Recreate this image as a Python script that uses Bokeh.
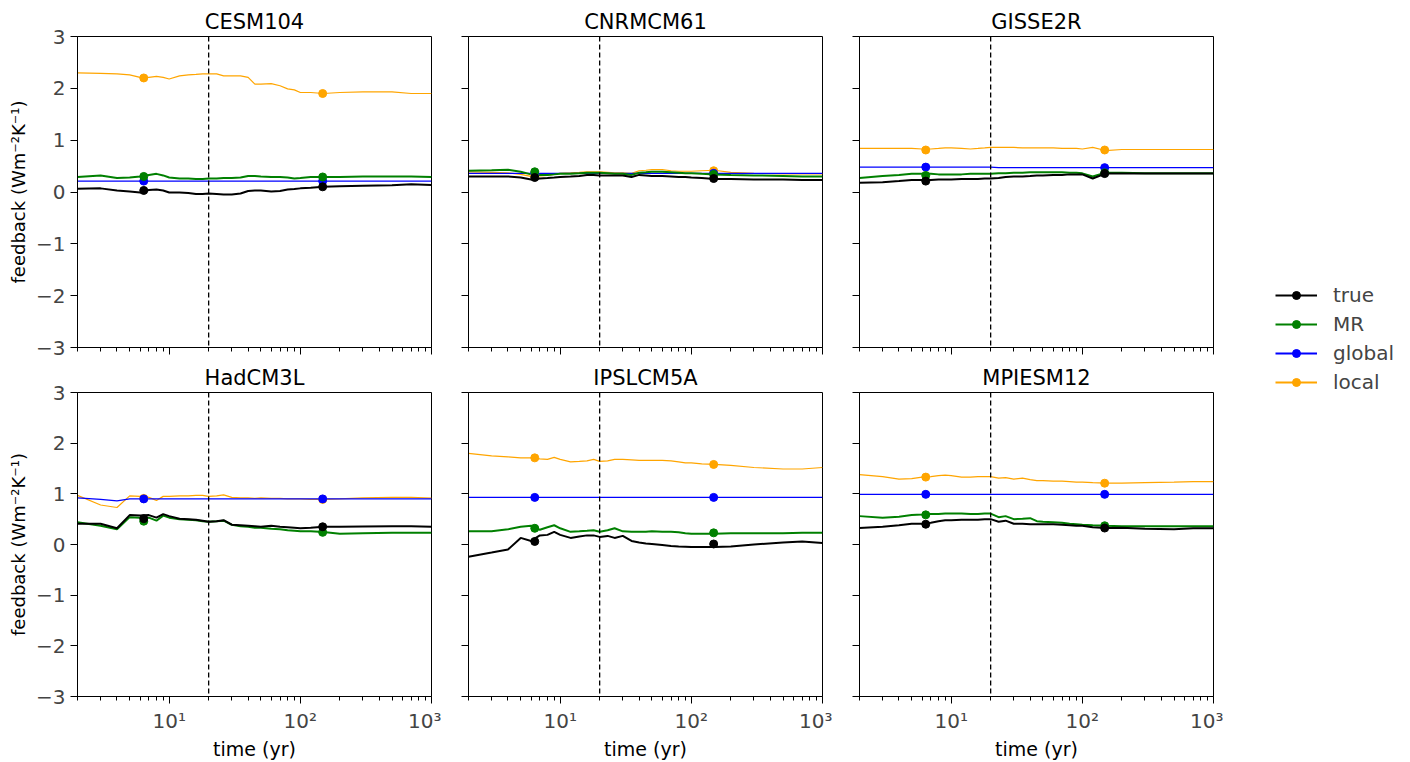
from bokeh.plotting import figure
from bokeh.layouts import row, column
from bokeh.models import Span, FixedTicker, Legend, LegendItem, Range1d, CustomLabelingPolicy
from bokeh.embed import file_html
from bokeh.resources import INLINE

# ---------------- data ----------------
years = [2, 3, 4, 5, 6, 7, 8, 9, 10, 12, 14, 16, 18, 20, 23, 26, 30, 35, 40, 45,
         50, 60, 70, 80, 90, 100, 120, 150, 200, 300, 500, 700, 1000]
marker_years = [6.4, 148]
split_year = 20

models = ["CESM104", "CNRMCM61", "GISSE2R", "HadCM3L", "IPSLCM5A", "MPIESM12"]
series_names = ["true", "MR", "global", "local"]

CESM104_true = [0.065, 0.07, 0.03, 0.01, -0.01, 0.04, 0.05, 0.03, -0.01, -0.01, -0.02, -0.04, -0.04, -0.03, -0.04, -0.05, -0.05, -0.03, 0.02, 0.03, 0.03, 0.01, 0.02, 0.05, 0.06, 0.07, 0.08, 0.10, 0.11, 0.12, 0.13, 0.15, 0.135]
CESM104_MR = [0.29, 0.32, 0.27, 0.28, 0.30, 0.33, 0.35, 0.32, 0.28, 0.26, 0.26, 0.25, 0.25, 0.26, 0.26, 0.27, 0.27, 0.28, 0.31, 0.31, 0.30, 0.29, 0.29, 0.28, 0.26, 0.27, 0.29, 0.29, 0.29, 0.30, 0.30, 0.30, 0.29]
CESM104_global = [0.21, 0.21, 0.21, 0.21, 0.21, 0.21, 0.21, 0.21, 0.21, 0.21, 0.21, 0.21, 0.21, 0.21, 0.21, 0.21, 0.21, 0.21, 0.21, 0.21, 0.21, 0.21, 0.21, 0.21, 0.21, 0.21, 0.21, 0.21, 0.21, 0.21, 0.21, 0.21, 0.21]
CESM104_local = [2.30, 2.29, 2.28, 2.26, 2.21, 2.21, 2.23, 2.21, 2.18, 2.24, 2.26, 2.27, 2.28, 2.28, 2.28, 2.24, 2.24, 2.24, 2.21, 2.08, 2.08, 2.09, 2.05, 1.99, 1.97, 1.92, 1.92, 1.90, 1.92, 1.93, 1.93, 1.90, 1.90]

CNRMCM61_true = [0.30, 0.30, 0.30, 0.28, 0.24, 0.26, 0.27, 0.28, 0.29, 0.30, 0.31, 0.33, 0.33, 0.32, 0.32, 0.32, 0.32, 0.29, 0.33, 0.32, 0.31, 0.31, 0.30, 0.29, 0.29, 0.28, 0.27, 0.25, 0.25, 0.24, 0.24, 0.23, 0.23]
CNRMCM61_MR = [0.41, 0.42, 0.43, 0.39, 0.34, 0.33, 0.33, 0.34, 0.35, 0.35, 0.36, 0.37, 0.37, 0.37, 0.36, 0.35, 0.35, 0.33, 0.37, 0.38, 0.39, 0.39, 0.38, 0.37, 0.36, 0.36, 0.35, 0.34, 0.33, 0.32, 0.31, 0.30, 0.30]
CNRMCM61_global = [0.36, 0.36, 0.36, 0.36, 0.36, 0.36, 0.36, 0.36, 0.36, 0.36, 0.36, 0.36, 0.36, 0.36, 0.36, 0.36, 0.36, 0.36, 0.36, 0.36, 0.36, 0.36, 0.36, 0.36, 0.36, 0.36, 0.36, 0.36, 0.36, 0.36, 0.36, 0.36, 0.36]
CNRMCM61_local = [0.39, 0.38, 0.37, 0.34, 0.30, 0.31, 0.32, 0.34, 0.36, 0.37, 0.38, 0.39, 0.39, 0.39, 0.38, 0.37, 0.37, 0.36, 0.41, 0.42, 0.43, 0.43, 0.41, 0.40, 0.40, 0.40, 0.41, 0.42, 0.38, 0.36, 0.35, 0.35, 0.35]

GISSE2R_true = [0.18, 0.19, 0.21, 0.23, 0.23, 0.23, 0.24, 0.24, 0.24, 0.25, 0.25, 0.25, 0.26, 0.26, 0.27, 0.29, 0.30, 0.30, 0.31, 0.32, 0.32, 0.33, 0.33, 0.34, 0.34, 0.34, 0.26, 0.355, 0.355, 0.355, 0.355, 0.355, 0.355]
GISSE2R_MR = [0.27, 0.31, 0.33, 0.35, 0.35, 0.35, 0.34, 0.34, 0.34, 0.34, 0.35, 0.35, 0.35, 0.35, 0.36, 0.36, 0.37, 0.37, 0.38, 0.38, 0.38, 0.38, 0.38, 0.37, 0.37, 0.36, 0.30, 0.37, 0.37, 0.36, 0.36, 0.36, 0.36]
GISSE2R_global = [0.48, 0.48, 0.48, 0.48, 0.48, 0.48, 0.48, 0.48, 0.48, 0.48, 0.48, 0.48, 0.48, 0.48, 0.47, 0.47, 0.47, 0.47, 0.47, 0.47, 0.47, 0.47, 0.47, 0.47, 0.47, 0.47, 0.47, 0.47, 0.47, 0.47, 0.47, 0.47, 0.47]
GISSE2R_local = [0.84, 0.84, 0.84, 0.84, 0.83, 0.83, 0.84, 0.85, 0.85, 0.84, 0.83, 0.84, 0.85, 0.86, 0.86, 0.86, 0.86, 0.85, 0.85, 0.85, 0.85, 0.85, 0.84, 0.84, 0.84, 0.83, 0.86, 0.80, 0.82, 0.82, 0.82, 0.82, 0.82]

HadCM3L_true = [0.41, 0.41, 0.32, 0.58, 0.57, 0.58, 0.53, 0.60, 0.56, 0.51, 0.50, 0.49, 0.47, 0.45, 0.46, 0.48, 0.39, 0.38, 0.37, 0.36, 0.35, 0.37, 0.35, 0.34, 0.33, 0.32, 0.33, 0.35, 0.35, 0.355, 0.36, 0.36, 0.35]
HadCM3L_MR = [0.44, 0.37, 0.30, 0.54, 0.53, 0.53, 0.47, 0.57, 0.53, 0.50, 0.49, 0.48, 0.46, 0.45, 0.46, 0.47, 0.39, 0.36, 0.35, 0.33, 0.33, 0.31, 0.30, 0.28, 0.27, 0.26, 0.26, 0.245, 0.21, 0.22, 0.23, 0.23, 0.23]
HadCM3L_global = [0.92, 0.89, 0.86, 0.90, 0.90, 0.90, 0.90, 0.90, 0.90, 0.90, 0.90, 0.90, 0.90, 0.90, 0.90, 0.90, 0.90, 0.90, 0.90, 0.90, 0.90, 0.90, 0.90, 0.90, 0.90, 0.90, 0.90, 0.90, 0.90, 0.90, 0.90, 0.90, 0.90]
HadCM3L_local = [0.97, 0.78, 0.73, 0.96, 0.95, 0.93, 0.87, 0.95, 0.95, 0.96, 0.96, 0.97, 0.97, 0.95, 0.96, 0.98, 0.93, 0.92, 0.92, 0.91, 0.92, 0.91, 0.91, 0.90, 0.90, 0.90, 0.89, 0.89, 0.90, 0.92, 0.93, 0.93, 0.915]

IPSLCM5A_true = [-0.24, -0.16, -0.10, 0.13, 0.07, 0.18, 0.19, 0.25, 0.19, 0.13, 0.16, 0.18, 0.18, 0.15, 0.17, 0.13, 0.17, 0.07, 0.04, 0.02, 0.01, -0.01, -0.03, -0.04, -0.045, -0.05, -0.05, -0.05, -0.04, 0.0, 0.04, 0.06, 0.03]
IPSLCM5A_MR = [0.26, 0.26, 0.30, 0.35, 0.37, 0.29, 0.34, 0.38, 0.32, 0.25, 0.26, 0.27, 0.28, 0.25, 0.28, 0.32, 0.26, 0.25, 0.25, 0.25, 0.26, 0.25, 0.25, 0.24, 0.22, 0.21, 0.21, 0.21, 0.22, 0.22, 0.22, 0.23, 0.23]
IPSLCM5A_global = [0.93, 0.93, 0.93, 0.93, 0.93, 0.93, 0.93, 0.93, 0.93, 0.93, 0.93, 0.93, 0.93, 0.93, 0.93, 0.93, 0.93, 0.93, 0.93, 0.93, 0.93, 0.93, 0.93, 0.93, 0.93, 0.93, 0.93, 0.93, 0.93, 0.93, 0.93, 0.93, 0.93]
IPSLCM5A_local = [1.80, 1.75, 1.73, 1.71, 1.71, 1.69, 1.68, 1.72, 1.68, 1.63, 1.64, 1.65, 1.68, 1.64, 1.65, 1.68, 1.68, 1.67, 1.66, 1.66, 1.66, 1.66, 1.65, 1.63, 1.61, 1.61, 1.59, 1.58, 1.56, 1.52, 1.49, 1.49, 1.52]

MPIESM12_true = [0.325, 0.35, 0.38, 0.41, 0.41, 0.43, 0.46, 0.48, 0.48, 0.49, 0.49, 0.49, 0.50, 0.50, 0.45, 0.47, 0.41, 0.41, 0.40, 0.40, 0.40, 0.40, 0.39, 0.38, 0.37, 0.37, 0.34, 0.325, 0.33, 0.31, 0.30, 0.32, 0.32]
MPIESM12_MR = [0.56, 0.53, 0.55, 0.58, 0.59, 0.60, 0.60, 0.61, 0.61, 0.61, 0.60, 0.60, 0.61, 0.61, 0.54, 0.56, 0.50, 0.51, 0.52, 0.46, 0.45, 0.44, 0.43, 0.41, 0.40, 0.39, 0.38, 0.37, 0.36, 0.36, 0.36, 0.36, 0.36]
MPIESM12_global = [0.99, 0.99, 0.99, 0.99, 0.99, 0.99, 0.99, 0.99, 0.99, 0.99, 0.99, 0.99, 0.99, 0.99, 0.99, 0.99, 0.99, 0.99, 0.99, 0.99, 0.99, 0.99, 0.99, 0.99, 0.99, 0.99, 0.99, 0.99, 0.99, 0.99, 0.99, 0.99, 0.99]
MPIESM12_local = [1.38, 1.34, 1.29, 1.30, 1.33, 1.34, 1.36, 1.37, 1.36, 1.33, 1.33, 1.34, 1.34, 1.34, 1.31, 1.32, 1.29, 1.31, 1.28, 1.26, 1.26, 1.25, 1.25, 1.24, 1.23, 1.23, 1.22, 1.21, 1.21, 1.22, 1.23, 1.24, 1.24]

# marker values at marker_years
CESM104_pts_true = [0.03, 0.10]
CESM104_pts_MR = [0.30, 0.29]
CESM104_pts_global = [0.21, 0.21]
CESM104_pts_local = [2.20, 1.90]
CNRMCM61_pts_true = [0.28, 0.26]
CNRMCM61_pts_MR = [0.39, 0.34]
CNRMCM61_pts_global = [0.36, 0.36]
CNRMCM61_pts_local = [0.33, 0.41]
GISSE2R_pts_true = [0.21, 0.355]
GISSE2R_pts_MR = [0.32, 0.37]
GISSE2R_pts_global = [0.48, 0.47]
GISSE2R_pts_local = [0.81, 0.81]
HadCM3L_pts_true = [0.51, 0.35]
HadCM3L_pts_MR = [0.46, 0.24]
HadCM3L_pts_global = [0.90, 0.90]
HadCM3L_pts_local = [0.91, 0.89]
IPSLCM5A_pts_true = [0.06, 0.01]
IPSLCM5A_pts_MR = [0.32, 0.23]
IPSLCM5A_pts_global = [0.93, 0.93]
IPSLCM5A_pts_local = [1.71, 1.58]
MPIESM12_pts_true = [0.40, 0.325]
MPIESM12_pts_MR = [0.585, 0.37]
MPIESM12_pts_global = [0.99, 0.99]
MPIESM12_pts_local = [1.33, 1.21]

y_ticks = [-3, -2, -1, 0, 1, 2, 3]
y_tick_labels = ["\u22123", "\u22122", "\u22121", "0", "1", "2", "3"]
x_ticks = [10, 100, 1000]
x_tick_labels = ["10\u00b9", "10\u00b2", "10\u00b3"]
x_minor = [2, 3, 4, 5, 6, 7, 8, 9, 20, 30, 40, 50, 60, 70, 80, 90,
           200, 300, 400, 500, 600, 700, 800, 900]

# ---------------- build ----------------
g = globals()
line_data = {m: {s: g[f"{m}_{s}"] for s in series_names} for m in models}
pt_data = {m: {s: g[f"{m}_pts_{s}"] for s in series_names} for m in models}

colors = {"true": "black", "MR": "#008000", "global": "#0000ff", "local": "#ffa500"}
widths = {"true": 2.0, "MR": 2.0, "global": 1.2, "local": 1.2}
draw_order = ["local", "global", "MR", "true"]

FONT = "DejaVu Sans"
TICK_COLOR = "#444444"
FRAME_W, FRAME_H = 354, 311

NO_LABELS = "for (let i = 0; i < indices.size; i++) { indices.unset(i) }\nreturn indices"


def hide_labels(ax):
    ax.major_label_policy = CustomLabelingPolicy(code=NO_LABELS)
    ax.major_label_text_font_size = "0px"
    ax.major_label_standoff = 0


def make_panel(i, name):
    col, rw = i % 3, i // 3
    left = 77 if col == 0 else 27
    right = 10
    top = 36 if rw == 0 else 33
    bottom = 12 if rw == 0 else 59
    p = figure(width=left + FRAME_W + right, height=top + FRAME_H + bottom,
               x_axis_type="log", x_range=Range1d(2, 1000), y_range=Range1d(-3, 3),
               output_backend="svg", toolbar_location=None,
               min_border_left=left, min_border_right=right,
               min_border_top=top, min_border_bottom=bottom, title=name)
    p.title.text_font = FONT
    p.title.text_font_size = "21px"
    p.title.text_font_style = "normal"
    p.title.text_color = "black"
    p.title.align = "center"
    p.title.standoff = 6
    p.grid.visible = False
    p.outline_line_color = "black"
    p.outline_line_width = 1
    p.background_fill_color = "white"
    p.border_fill_color = "white"

    xa = p.xaxis[0]
    xa.ticker = FixedTicker(ticks=x_ticks, minor_ticks=x_minor)
    xa.major_label_overrides = {t: l for t, l in zip(x_ticks, x_tick_labels)}
    ya = p.yaxis[0]
    ya.ticker = FixedTicker(ticks=y_ticks, minor_ticks=[])
    ya.major_label_overrides = {t: l for t, l in zip(y_ticks, y_tick_labels)}
    for ax in (xa, ya):
        ax.axis_line_color = "black"
        ax.major_tick_line_color = "black"
        ax.minor_tick_line_color = "black"
        ax.major_tick_in = 0
        ax.major_tick_out = 7
        ax.minor_tick_in = 0
        ax.minor_tick_out = 4
        ax.major_label_text_font = FONT
        ax.major_label_text_font_size = "20px"
        ax.major_label_text_color = TICK_COLOR
        ax.major_label_standoff = 5
        ax.axis_label_text_font = FONT
        ax.axis_label_text_font_size = "18px"
        ax.axis_label_text_font_style = "normal"
        ax.axis_label_text_color = "black"
        ax.axis_label_standoff = 4
    if rw == 0:
        hide_labels(xa)
    else:
        xa.axis_label = "time (yr)"
        xa.axis_label_text_font_size = "19px"
        xa.axis_label_standoff = 2
    if col == 0:
        ya.axis_label = "feedback (Wm\u207b\u00b2K\u207b\u00b9)"
    else:
        hide_labels(ya)

    p.add_layout(Span(location=split_year, dimension="height", line_color="black",
                      line_width=1.3, line_dash="5 3"))
    for s in draw_order:
        p.line(years, line_data[name][s], line_color=colors[s], line_width=widths[s])
    for s in draw_order:
        p.scatter(marker_years, pt_data[name][s], size=8, color=colors[s])
    return p


panels = [make_panel(i, m) for i, m in enumerate(models)]

# legend holder (its helper glyphs hold a single NaN point so nothing is drawn)
lf = figure(width=187, height=762, output_backend="svg", toolbar_location=None,
            x_axis_location=None, y_axis_location=None,
            x_range=Range1d(0, 1), y_range=Range1d(0, 1), min_border=0)
lf.grid.visible = False
lf.outline_line_color = None
nan = float("nan")
items = []
for s in series_names:
    lr = lf.line(x=[nan], y=[nan], line_color=colors[s], line_width=2)
    cr = lf.scatter(x=[nan], y=[nan], size=8, color=colors[s])
    items.append(LegendItem(label=s, renderers=[lr, cr]))
leg = Legend(items=items, location=(42, 358), glyph_width=42, glyph_height=20,
             label_standoff=16, spacing=5, padding=10, margin=0,
             label_text_font=FONT, label_text_font_size="20px",
             label_text_color=TICK_COLOR, border_line_alpha=0,
             background_fill_alpha=0)
lf.add_layout(leg, "center")

layout = row(column(row(*panels[:3]), row(*panels[3:])), lf)
open("out.html", "w").write(file_html(layout, INLINE))
